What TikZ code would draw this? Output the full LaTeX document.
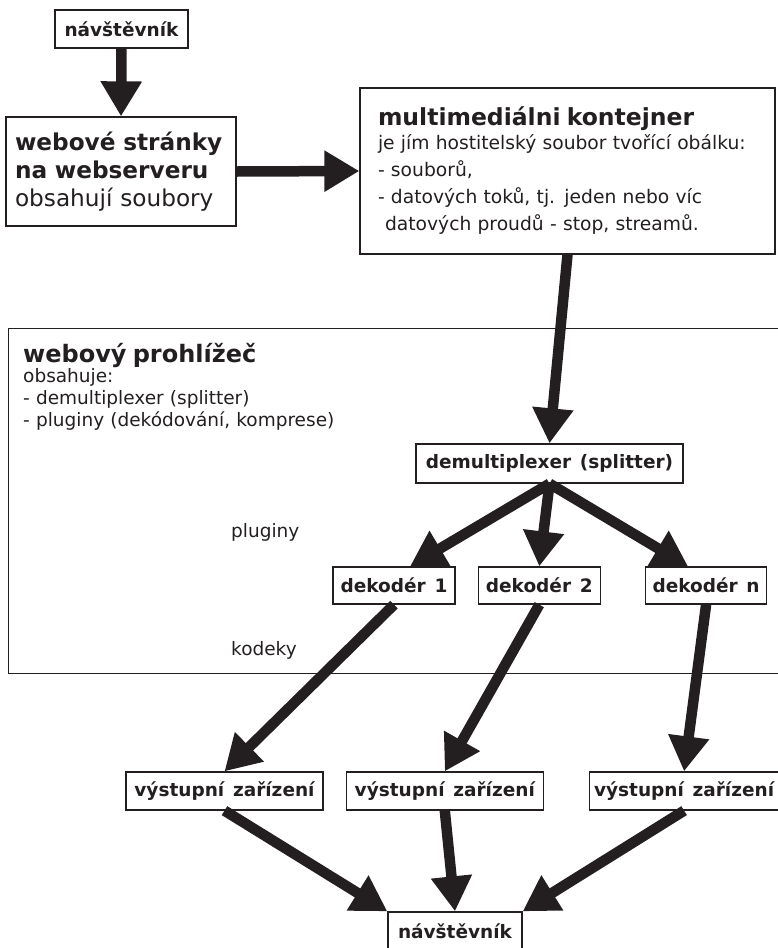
\documentclass[tikz,border=0pt]{standalone}
\usepackage{fontspec}
\setmainfont{DejaVu Sans}[WordSpace=1.35]
\usepackage{tikz}
\usetikzlibrary{arrows.meta,positioning,calc}
\definecolor{ink}{HTML}{231F20}

\begin{document}
\begin{tikzpicture}[
  x=1pt,y=-1pt,
  node distance=22pt,
  box/.style={draw=ink,line width=1.3pt,text=ink,minimum height=38pt,inner sep=0pt,font=\fontsize{18.5}{22}\selectfont\bfseries},
  frame/.style={draw=ink,line width=1.3pt,text=ink,align=left,inner sep=0pt},
  note/.style={text=ink,inner sep=0pt,font=\fontsize{18.5}{22}\selectfont},
  arrow/.style={-{Triangle[length=35pt,width=39pt]},line width=10.5pt,draw=ink}
]
\useasboundingbox (0,0) rectangle (777,948);
\node[frame,minimum width=800pt,minimum height=345pt,anchor=north west] (browser) at (8,328) {};
\node[note,anchor=north west,align=left,text width=345pt] (browsertext) at ($(browser.north west)+(15,15)$)
  {{\fontsize{24}{28}\selectfont\bfseries webový prohlížeč}\\[-2pt]
   obsahuje:\\- demultiplexer (splitter)\\- pluginy (dekódování, komprese)};
\node[note,anchor=base west] (plugins) at (231,537) {pluginy};
\node[note,anchor=base west] (codecs) at (231,655) {kodeky};

\node[box,minimum width=133pt] (visitor) at (121.5,29) {návštěvník};
\node[frame,minimum width=230pt,minimum height=109pt,text width=212pt,font=\fontsize{23.2}{28}\selectfont] (pages) at (121,171.5)
  {\textbf{webové stránky}\\\textbf{na webserveru}\\obsahují soubory};
\node[frame,minimum width=415pt,minimum height=166pt,text width=379pt,font=\fontsize{18.7}{27}\selectfont] (container) at (567.5,171)
  {{\fontsize{23.5}{27}\selectfont\bfseries multimediálni kontejner}\\[-3pt]
   je jím hostitelský soubor tvořící obálku:\\- souborů,\\
   - datových toků, tj. jeden nebo víc\\\hspace*{7pt}datových proudů - stop, streamů.};

\node[box,minimum width=267pt,minimum height=39pt] (demux) at (549.5,463.5) {demultiplexer (splitter)};
\node[box,minimum width=122pt,minimum height=37pt] (dec1) at (394,585.5) {dekodér 1};
\node[box,minimum width=122pt,minimum height=37pt,right=22pt of dec1] (dec2) {dekodér 2};
\node[box,minimum width=121pt,minimum height=37pt,right=44pt of dec2] (decn) {dekodér n};

\node[box,minimum width=197pt] (out1) at (224.5,791) {výstupní zařízení};
\node[box,minimum width=197pt,right=22pt of out1] (out2) {výstupní zařízení};
\node[box,minimum width=189pt,right=45pt of out2] (out3) {výstupní zařízení};
\node[box,minimum width=134pt] (viewer) at (455,931) {návštěvník};

\draw[arrow] (visitor.south) -- (pages.north);
\draw[arrow] (pages.east) -- (container.west);
\draw[arrow] (container.south) -- (demux.north);
\draw[arrow] (demux.south) -- ($(dec1.north)+(16,0)$);
\draw[arrow] (demux.south) -- (dec2.north);
\draw[arrow] (demux.south) -- ($(decn.north)+(-18,0)$);
\draw[arrow] (dec1.south) -- (out1.north);
\draw[arrow] (dec2.south) -- (out2.north);
\draw[arrow] (decn.south) -- (out3.north);
\draw[arrow] (out1.south) -- (viewer.north west);
\draw[arrow] (out2.south) -- (viewer.north);
\draw[arrow] (out3.south) -- (viewer.north east);
\end{tikzpicture}
\end{document}
